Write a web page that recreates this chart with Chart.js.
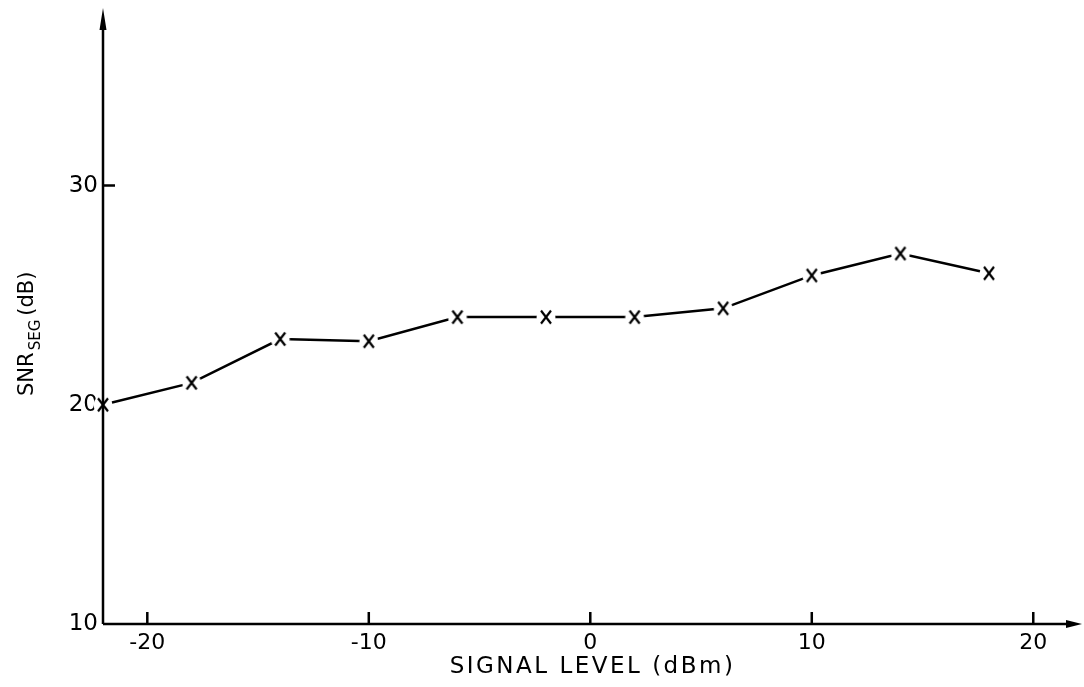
<!DOCTYPE html>
<html>
<head>
<meta charset="utf-8">
<script src="https://cdn.jsdelivr.net/npm/chart.js@4"></script>
<style>
body{margin:0;background:#fff;}
#wrap{width:1084px;height:687px;}
</style>
</head>
<body>
<div id="wrap"><canvas id="c" width="1084" height="687"></canvas></div>
<script>
// ================= DATA =================
const signalLevel = [-22, -18, -14, -10, -6, -2, 2, 6, 10, 14, 18];
const snrSeg = [20, 21, 23, 22.9, 24, 24, 24, 24.4, 25.9, 26.9, 26];
const xTicks = [-20, -10, 0, 10, 20];
const yTicks = [10, 20, 30];
const yTickMarks = [30];
const xTitle = "SIGNAL LEVEL (dBm)";
const yTitleMain = "SNR", yTitleSub = "SEG", yTitleUnit = "(dB)";

const FONT = "'DejaVu Sans', sans-serif";

// "x" marker with a white halo so the line stops short of it
function makeMarker(){
  const m = document.createElement("canvas");
  m.width = 24; m.height = 24;
  const g = m.getContext("2d");
  g.fillStyle = "#fff";
  g.beginPath(); g.arc(12, 12, 9.5, 0, Math.PI*2); g.fill();
  g.strokeStyle = "#000"; g.lineWidth = 2.2;
  g.beginPath();
  g.moveTo(7, 5.5); g.lineTo(17, 18.5);
  g.moveTo(17, 5.5); g.lineTo(7, 18.5);
  g.stroke();
  return m;
}

// ================= AXES / ARROWS / TITLES =================
const axesPlugin = {
  id: "axes",
  afterDatasetsDraw(chart){
    const {ctx, chartArea: a, scales: {x, y}} = chart;
    const x0 = x.getPixelForValue(x.min), y0 = y.getPixelForValue(y.min);
    ctx.save();
    ctx.strokeStyle = "#000"; ctx.fillStyle = "#000"; ctx.lineWidth = 2.5;
    ctx.beginPath();
    ctx.moveTo(x0, y0); ctx.lineTo(a.right - 10, y0);
    ctx.moveTo(x0, y0); ctx.lineTo(x0, a.top + 16);
    xTicks.forEach(v => { const p = x.getPixelForValue(v); ctx.moveTo(p, y0); ctx.lineTo(p, y0 - 12); });
    yTickMarks.forEach(v => { const p = y.getPixelForValue(v); ctx.moveTo(x0, p); ctx.lineTo(x0 + 12, p); });
    ctx.stroke();
    ctx.beginPath();
    ctx.moveTo(a.right, y0); ctx.lineTo(a.right - 16, y0 - 4); ctx.lineTo(a.right - 16, y0 + 4); ctx.closePath();
    ctx.moveTo(x0, a.top); ctx.lineTo(x0 - 3.5, a.top + 22); ctx.lineTo(x0 + 3.5, a.top + 22); ctx.closePath();
    ctx.fill();

    // x title, widely spaced like the original lettering
    ctx.save();
    ctx.font = "23px " + FONT;
    ctx.letterSpacing = "2.5px";
    ctx.textAlign = "center"; ctx.textBaseline = "middle";
    ctx.fillText(xTitle, (a.left + a.right) / 2, y0 + 43);
    ctx.restore();

    // rotated y title with subscript
    ctx.translate(33, 396);
    ctx.rotate(-Math.PI/2);
    ctx.textBaseline = "alphabetic"; ctx.textAlign = "left";
    ctx.font = "21px " + FONT;
    ctx.fillText(yTitleMain, 0, 0);
    let off = ctx.measureText(yTitleMain).width + 2;
    ctx.font = "15px " + FONT;
    ctx.fillText(yTitleSub, off, 7);
    off += ctx.measureText(yTitleSub).width + 4;
    ctx.font = "21px " + FONT;
    ctx.fillText(yTitleUnit, off, 0);
    ctx.restore();
  }
};

// ================= CHART =================
new Chart(document.getElementById("c"), {
  type: "line",
  data: {
    datasets: [{
      data: signalLevel.map((v, i) => ({x: v, y: snrSeg[i]})),
      borderColor: "#000",
      borderWidth: 2.5,
      tension: 0,
      pointStyle: makeMarker(),
      pointRadius: 12,
      clip: false
    }]
  },
  options: {
    responsive: false,
    animation: false,
    layout: {autoPadding: false, padding: {top: 8, right: 2, left: 0, bottom: 0}},
    plugins: {legend: {display: false}, tooltip: {enabled: false}},
    scales: {
      x: {
        type: "linear", min: -22, max: 22.2,
        grid: {display: false, drawTicks: false}, border: {display: false},
        afterBuildTicks: s => { s.ticks = xTicks.map(v => ({value: v})); },
        afterFit: s => { s.height = 63; s.paddingLeft = 0; s.paddingRight = 0; },
        ticks: {color: "#000", padding: 6, font: {family: FONT, size: 22}}
      },
      y: {
        type: "linear", min: 10, max: 38.1, z: 1,
        grid: {display: false, drawTicks: false}, border: {display: false},
        afterBuildTicks: s => { s.ticks = yTicks.map(v => ({value: v})); },
        afterFit: s => { s.width = 103; s.paddingTop = 0; s.paddingBottom = 0; },
        ticks: {color: "#000", padding: 5, font: {family: FONT, size: 23}}
      }
    }
  },
  plugins: [axesPlugin]
});
</script>
</body>
</html>
